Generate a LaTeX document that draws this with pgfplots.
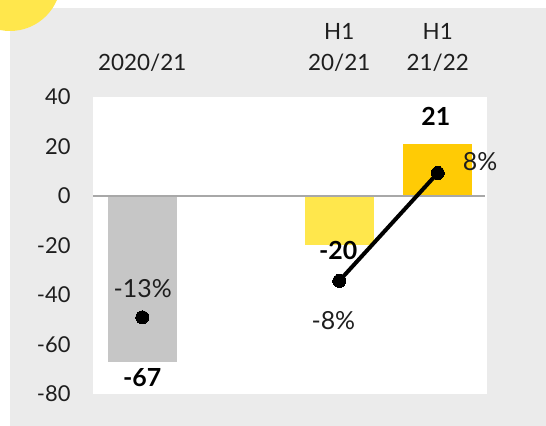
\documentclass[border=0pt]{standalone}
\usepackage{fontspec}
\setmainfont{Lato}
\usepackage{pgfplots}
\pgfplotsset{compat=1.18}
\definecolor{bggray}{HTML}{EBEBEB}
\definecolor{bargray}{HTML}{C6C6C6}
\definecolor{ylight}{HTML}{FFE74C}
\definecolor{ydark}{HTML}{FFCB05}
\definecolor{zerogray}{HTML}{A8A8A8}
\definecolor{txt}{HTML}{1E1E1E}

\newcommand{\tickfont}{\fontsize{22}{24}\selectfont}
\newcommand{\catfont}{\fontsize{22.5}{31}\selectfont}
\newcommand{\valfont}{\fontsize{25}{28}\selectfont}

\begin{document}
\begin{tikzpicture}
\useasboundingbox (0,0) rectangle (546bp,426bp);
% background panel and corner circle
\fill[bggray] (10bp,0) rectangle (546bp,418bp);
\fill[ylight] (10bp,446bp) circle[radius=51bp];
\begin{axis}[
    at={(93bp,32bp)}, anchor=south west,
    scale only axis, width=394bp, height=297bp,
    xmin=-0.5, xmax=3.5, ymin=-80, ymax=40,
    axis background/.style={fill=white},
    axis line style={draw=none},
    major tick length=0pt,
    ytick={-80,-60,-40,-20,0,20,40},
    yticklabels={-80,-60,-40,-20,0,20,40},
    yticklabel style={font=\tickfont, text=txt, anchor=east, xshift=-19bp},
    xtick={0,2,3},
    xticklabels={2020/21, H1\\20/21, H1\\21/22},
    xticklabel pos=upper,
    xticklabel style={font=\catfont, text=txt, align=center, anchor=south, yshift=22bp},
    ybar, bar width=69bp, bar shift=0pt,
    clip=false,
]
\addplot[draw=none, fill=bargray] coordinates {(0,-67)};
\addplot[draw=none, fill=ylight] coordinates {(2,-20)};
\addplot[draw=none, fill=ydark] coordinates {(3,21)};
\draw[zerogray, line width=2bp] (axis cs:-0.5,0) -- (axis cs:3.48,0);
\addplot[sharp plot, black, line width=4bp, mark=*, mark size=6.5bp,
    mark options={fill=black, line width=0pt}, unbounded coords=jump]
    coordinates {(0,-49) (1,nan) (2,-34.3) (3,9.3)};
% value labels
\node[font=\valfont\bfseries, text=black] at (axis cs:0,-73.5) {-67};
\node[font=\valfont\bfseries, text=black] at (axis cs:1.99,-22.2) {-20};
\node[font=\valfont\bfseries, text=black] at (axis cs:2.98,32.1) {21};
\node[font=\valfont, text=txt] at (axis cs:0.005,-37.4) {-13\%};
\node[font=\valfont, text=txt] at (axis cs:1.94,-50.5) {-8\%};
\node[font=\valfont, text=txt] at (axis cs:3.43,13.9) {8\%};
\end{axis}
\end{tikzpicture}
\end{document}
